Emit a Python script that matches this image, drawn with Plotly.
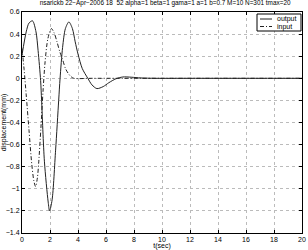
import plotly.graph_objects as go

t_out = [0, 0.3, 0.5, 0.75, 1.0, 1.15, 1.33, 1.4, 1.6, 1.87, 1.97, 2.15, 2.4, 2.62, 2.72,
         2.9, 3.1, 3.35, 3.6, 3.8, 4.0, 4.3, 4.7, 5.0, 5.35, 5.8, 6.2, 6.7, 7.2, 7.8,
         8.5, 9.5, 12, 16, 20]
y_out = [0.21, 0.42, 0.50, 0.52, 0.42, 0.25, -0.02, -0.2, -0.75, -1.12, -1.2, -1.1,
         -0.65, -0.2, 0.0, 0.28, 0.45, 0.51, 0.45, 0.33, 0.22, 0.09, 0.0, -0.06, -0.093,
         -0.075, -0.04, -0.005, 0.012, 0.01, 0.003, 0.0, 0.0, 0.0, 0.0]

t_in = [0, 0.15, 0.3, 0.5, 0.7, 0.85, 0.97, 1.1, 1.2, 1.35, 1.5, 1.65, 1.85, 2.1, 2.3,
        2.5, 2.7, 2.9, 3.1, 3.3, 3.5, 3.7, 5, 10, 20]
y_in = [0.27, 0.08, -0.15, -0.47, -0.78, -0.93, -0.98, -0.9, -0.75, -0.45, -0.12, 0.15,
        0.36, 0.45, 0.41, 0.33, 0.24, 0.17, 0.09, 0.045, 0.015, 0.0, 0.0, 0.0, 0.0]

x_ticks = [0, 2, 4, 6, 8, 10, 12, 14, 16, 18, 20]
y_ticks = [0.6, 0.4, 0.2, 0, -0.2, -0.4, -0.6, -0.8, -1, -1.2, -1.4]
y_tick_text = ["0.6", "0.4", "0.2", "0", "\u22120.2", "\u22120.4", "\u22120.6", "\u22120.8",
               "\u22121", "\u22121.2", "\u22121.4"]

series_names = ["output", "input"]
title = ("nsarickb 22\u2212Apr\u22122006 18  52 alpha=1 beta=1 gama=1 a=1 b=0.7 "
         "M=10 N=301 tmax=20")

FONT = dict(family="Liberation Sans", size=7, color="black")
TFONT = dict(family="Liberation Sans", size=6.4, color="black")
DASHDOT = "4px,2px,1px,2px"

fig = go.Figure()
fig.add_trace(go.Scatter(x=t_out, y=y_out, mode="lines", name=series_names[0],
                         line=dict(color="#222", width=1, shape="spline", smoothing=0.8)))
fig.add_trace(go.Scatter(x=t_in, y=y_in, mode="lines", name=series_names[1],
                         line=dict(color="#222", width=1, shape="spline", smoothing=0.8,
                                   dash=DASHDOT)))

axis_common = dict(showline=True, linecolor="black", linewidth=1, mirror="ticks",
                   ticks="inside", ticklen=3, tickcolor="black", automargin=False,
                   showgrid=True, gridcolor="#bbbbbb", griddash="dot", gridwidth=1,
                   zeroline=False, tickfont=FONT)

# manual legend box (paper coordinates) in the top-right corner
W, H = 308, 250
L, R, T, B = 22, 6, 12, 17
pw, ph = W - L - R, H - T - B
def px(x):
    return (x - L) / pw
def py(y):
    return (H - B - y) / ph

shapes = [
    dict(type="rect", xref="paper", yref="paper", x0=px(257), x1=px(301), y0=py(31), y1=py(14),
         line=dict(color="black", width=1), fillcolor="white", layer="above"),
    dict(type="line", xref="paper", yref="paper", x0=px(260), x1=px(272), y0=py(19), y1=py(19),
         line=dict(color="#222", width=1), layer="above"),
    dict(type="line", xref="paper", yref="paper", x0=px(260), x1=px(272), y0=py(26.5), y1=py(26.5),
         line=dict(color="#222", width=1, dash=DASHDOT), layer="above"),
]
annotations = [
    dict(xref="paper", yref="paper", x=px(275), y=py(19), text=series_names[0], showarrow=False,
         xanchor="left", yanchor="middle", font=FONT),
    dict(xref="paper", yref="paper", x=px(275), y=py(26.5), text=series_names[1], showarrow=False,
         xanchor="left", yanchor="middle", font=FONT),
]

fig.update_layout(
    width=W, height=H,
    margin=dict(l=L, r=R, t=T, b=B, autoexpand=False),
    paper_bgcolor="white", plot_bgcolor="white",
    title=dict(text=title, x=0.536, xanchor="center", y=0.999, yanchor="top", font=TFONT),
    xaxis=dict(range=[0, 20], tickvals=x_ticks, **axis_common,
               title=dict(text="t(sec)", standoff=0, font=FONT)),
    yaxis=dict(range=[-1.4, 0.6], tickvals=y_ticks, ticktext=y_tick_text, **axis_common,
               title=dict(text="displacement(mm)", standoff=0, font=FONT)),
    shapes=shapes, annotations=annotations,
    showlegend=False,
)

fig.write_html("out.html", config={"displayModeBar": False},
               post_script="document.body.style.margin='0';document.body.style.overflow='hidden';")
